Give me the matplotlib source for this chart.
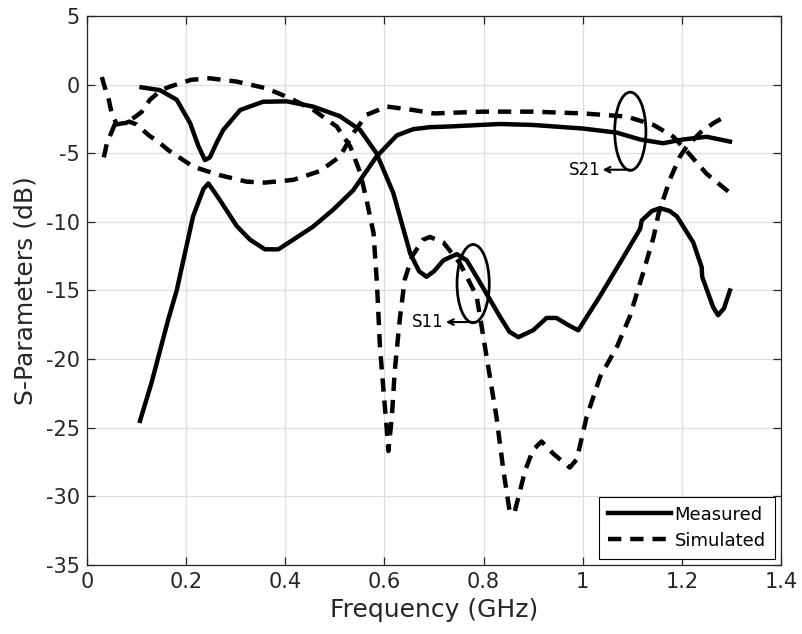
import numpy as np
import matplotlib
matplotlib.use("Agg")
import matplotlib.pyplot as plt
from matplotlib.patches import Ellipse

# measured S11 (GHz, dB)
meas_s11_f = [0.110, 0.147, 0.181, 0.208, 0.225, 0.238, 0.248, 0.262, 0.275, 0.309,
              0.355, 0.403, 0.456, 0.510, 0.551, 0.584, 0.618, 0.652, 0.670, 0.685,
              0.700, 0.719, 0.746, 0.766, 0.786, 0.799, 0.833, 0.852, 0.870, 0.900,
              0.927, 0.947, 0.970, 0.991, 1.035, 1.075, 1.116, 1.119, 1.140, 1.156,
              1.175, 1.190, 1.223, 1.240, 1.241, 1.263, 1.273, 1.285, 1.297]
meas_s11_db = [-0.2, -0.4, -1.1, -2.8, -4.5, -5.5, -5.3, -4.2, -3.3, -1.85,
               -1.25, -1.22, -1.6, -2.3, -3.3, -5.0, -7.9, -12.3, -13.6, -14.0,
               -13.6, -12.8, -12.35, -12.8, -14.0, -14.8, -16.9, -18.0, -18.4, -17.9,
               -17.0, -17.0, -17.5, -17.9, -15.4, -13.0, -10.5, -9.9, -9.2, -9.0,
               -9.2, -9.6, -11.5, -13.3, -14.0, -16.2, -16.8, -16.3, -15.0]

# measured S21
meas_s21_f = [0.107, 0.130, 0.164, 0.181, 0.214, 0.235, 0.245, 0.268, 0.302, 0.329,
              0.359, 0.386, 0.416, 0.456, 0.497, 0.537, 0.584, 0.625, 0.658, 0.692,
              0.732, 0.793, 0.833, 0.900, 1.000, 1.069, 1.116, 1.162, 1.202, 1.250, 1.297]
meas_s21_db = [-24.5, -21.75, -17.1, -15.0, -9.6, -7.6, -7.2, -8.4, -10.3, -11.3,
               -12.0, -12.0, -11.3, -10.35, -9.1, -7.7, -5.25, -3.7, -3.25, -3.1,
               -3.05, -2.94, -2.87, -2.94, -3.2, -3.5, -4.0, -4.27, -4.0, -3.8, -4.15]

# simulated S11
sim_s11_f = [0.030, 0.036, 0.044, 0.050, 0.060, 0.075, 0.095, 0.110, 0.127, 0.150,
             0.167, 0.210, 0.248, 0.302, 0.362, 0.410, 0.457, 0.504, 0.531, 0.551,
             0.564, 0.578, 0.585, 0.591, 0.598, 0.605, 0.608, 0.615, 0.621, 0.631,
             0.641, 0.656, 0.678, 0.692, 0.719, 0.752, 0.786, 0.806, 0.826, 0.840,
             0.853, 0.863, 0.884, 0.900, 0.917, 0.941, 0.974, 0.988, 1.008, 1.035,
             1.069, 1.095, 1.122, 1.143, 1.153, 1.176, 1.196, 1.210, 1.237, 1.264, 1.294]
sim_s11_db = [0.55, -0.2, -1.1, -2.1, -2.9, -2.8, -2.4, -2.0, -1.1, -0.4,
              -0.15, 0.35, 0.46, 0.22, -0.27, -1.0, -1.85, -3.06, -4.5, -6.4,
              -8.4, -10.8, -14.5, -19.1, -22.2, -25.2, -26.7, -24.2, -20.8, -17.1,
              -14.2, -12.5, -11.3, -11.1, -11.5, -13.0, -15.4, -19.8, -24.2, -28.1,
              -31.2, -31.1, -28.1, -26.6, -26.0, -26.9, -27.9, -27.3, -24.2, -21.3,
              -19.1, -16.9, -13.7, -11.1, -9.4, -6.9, -5.25, -4.5, -3.5, -2.8, -2.2]

# simulated S21
sim_s21_f = [0.034, 0.040, 0.056, 0.070, 0.085, 0.100, 0.125, 0.145, 0.165, 0.186,
             0.214, 0.268, 0.322, 0.359, 0.416, 0.470, 0.510, 0.537, 0.564, 0.605,
             0.658, 0.700, 0.800, 0.900, 1.001, 1.089, 1.143, 1.183, 1.216, 1.250, 1.294]
sim_s21_db = [-5.3, -4.3, -2.9, -2.9, -2.7, -2.9, -3.7, -4.2, -4.8, -5.3,
              -5.98, -6.6, -7.07, -7.14, -6.94, -6.3, -5.25, -3.55, -2.2, -1.6,
              -1.85, -2.1, -1.97, -1.97, -2.1, -2.33, -2.94, -3.8, -5.1, -6.5, -7.8]

plt.rcParams['font.family'] = 'DejaVu Sans'
plt.rcParams['axes.unicode_minus'] = False
fig = plt.figure(figsize=(8.03, 6.34), dpi=100)
ax = fig.add_axes([0.1083, 0.1088, 0.8643, 0.866])

lw = 3.2
dash = (3, 2)
ax.plot(meas_s11_f, meas_s11_db, color='k', lw=lw, label='Measured')
ax.plot(meas_s21_f, meas_s21_db, color='k', lw=lw)
ax.plot(sim_s11_f, sim_s11_db, color='k', lw=lw, linestyle='--', dashes=dash, label='Simulated')
ax.plot(sim_s21_f, sim_s21_db, color='k', lw=lw, linestyle='--', dashes=dash)

# ellipses + arrows
ax.add_patch(Ellipse((1.096, -3.4), 0.063, 5.7, fill=False, ec='k', lw=2))
ax.annotate('', xy=(1.040, -6.2), xytext=(1.096, -6.2),
            arrowprops=dict(arrowstyle='->', lw=1.5, color='k', shrinkA=0, shrinkB=0))
ax.text(1.036, -6.2, 'S21', ha='right', va='center', fontsize=12)

ax.add_patch(Ellipse((0.779, -14.5), 0.065, 5.7, fill=False, ec='k', lw=2))
ax.annotate('', xy=(0.724, -17.3), xytext=(0.782, -17.3),
            arrowprops=dict(arrowstyle='->', lw=1.5, color='k', shrinkA=0, shrinkB=0))
ax.text(0.720, -17.3, 'S11', ha='right', va='center', fontsize=12)

ax.set_xlim(0, 1.4)
ax.set_ylim(-35, 5)
ax.set_xticks(np.arange(0, 1.41, 0.2))
ax.set_xticklabels(['0', '0.2', '0.4', '0.6', '0.8', '1', '1.2', '1.4'])
ax.set_yticks(np.arange(-35, 6, 5))
ax.grid(True, color='#dedede', lw=0.9)
ax.set_axisbelow(True)
ax.tick_params(direction='in', length=6, width=0.9, top=True, right=True,
               labelsize=15, colors='#262626', pad=5)
for s in ax.spines.values():
    s.set_color('#262626')
    s.set_linewidth(0.9)

ax.set_xlabel('Frequency (GHz)', fontsize=18, color='#262626', labelpad=4)
ax.set_ylabel('S-Parameters (dB)', fontsize=18, color='#262626', labelpad=6)

leg = ax.legend(loc='lower right', fontsize=13,
                handlelength=3.5, labelspacing=0.45, borderaxespad=0.35, fancybox=False,
                edgecolor='k', framealpha=1, borderpad=0.5, handletextpad=0.2)
leg.get_frame().set_linewidth(0.8)

fig.savefig('out.png', dpi=100)
